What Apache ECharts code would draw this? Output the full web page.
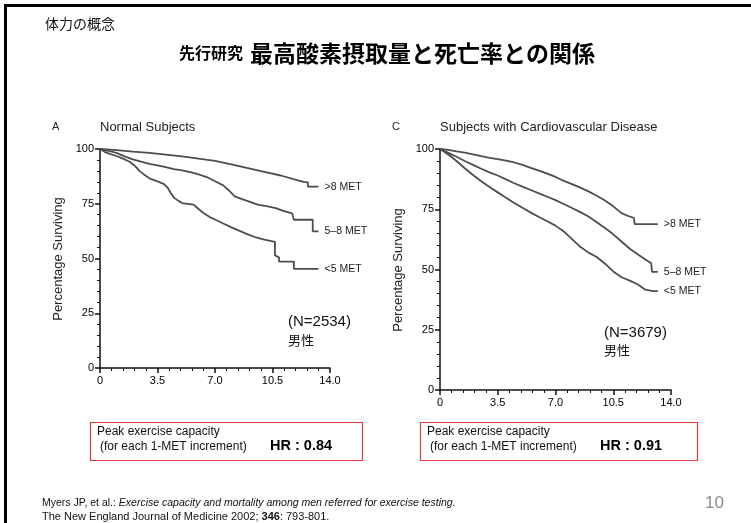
<!DOCTYPE html>
<html><head><meta charset="utf-8">
<script src="https://cdn.jsdelivr.net/npm/echarts@6/dist/echarts.min.js"></script>
<style>html,body{margin:0;padding:0;background:#fff}#c{width:751px;height:523px}</style>
</head><body><div id="c"></div>
<script>
// ---- data ----
const xTicks = [0, 3.5, 7.0, 10.5, 14.0];
const yTicks = [0, 25, 50, 75, 100];
const seriesNames = ['>8 MET', '5\u20138 MET', '<5 MET'];

// Panel A: Normal Subjects (survival %, by years)
const aHighX = [0,1,2,3,4,5,6,7,8,9,10,11,12,12.4,12.65,12.65,13.3];
const aHighY = [100,99.5,98.8,98.2,97.4,96.6,95.6,94.6,93.0,91.3,89.6,87.9,85.8,85.0,84.8,82.8,82.8];
const aMidX = [0,0.5,1,1.5,2,2.5,3,3.5,4,4.5,5,5.5,6,6.5,7,7.5,7.8,8.2,8.6,9,9.6,10.2,10.7,11.2,11.7,11.8,12.95,12.95,13.3];
const aMidY = [100,99.2,98.2,96.6,95.3,94.2,93.2,92.5,91.7,90.8,90.2,89.4,88.4,87.2,85.3,83.4,81.4,78.4,77.2,76.2,74.6,73.8,73.0,71.6,70.6,67.7,67.7,62.4,62.4];
const aLowX = [0,0.3,0.6,1.0,1.4,1.8,2.1,2.4,2.7,3.0,3.5,3.9,4.1,4.3,4.5,4.8,5.0,5.7,6.0,6.3,6.7,7.0,7.5,8.0,8.5,9.0,9.5,10.0,10.65,10.65,10.9,10.9,11.8,11.8,13.3];
const aLowY = [100,98.6,97.8,96.8,95.6,94.2,92.5,90.0,88.2,86.6,85.2,84.0,82.5,80.0,77.8,76.2,75.3,74.6,72.6,70.8,68.8,67.8,66.0,64.2,62.6,61.0,59.6,58.6,57.6,51.5,50.4,48.6,48.6,45.3,45.3];

// Panel C: Subjects with Cardiovascular Disease
const cHighX = [0,0.5,1,1.5,2,2.5,3,3.5,4,4.5,5,5.5,6,6.5,7,7.5,8,8.5,9,9.5,10,10.5,11,11.4,11.75,11.8,13.2];
const cHighY = [100,99.6,99.0,98.5,97.8,97.0,96.3,95.8,95.2,94.4,93.4,92.2,91.0,89.8,88.4,86.8,85.4,84.0,82.4,80.6,78.6,76.2,73.4,72.2,71.4,68.8,68.8];
const cMidX = [0,0.5,1,1.5,2,2.5,3,3.5,4,4.5,5,5.5,6,6.5,7,7.5,8,8.5,9,9.5,10,10.5,11,11.5,12,12.4,12.8,12.85,13.2];
const cMidY = [100,98.4,96.8,95.0,93.4,91.8,90.3,89.0,87.4,85.8,84.4,83.0,81.6,80.2,78.8,77.2,75.5,73.8,72.0,69.6,67.2,64.6,61.6,58.6,56.2,54.4,52.6,49.0,49.0];
const cLowX = [0,0.3,0.6,1,1.5,2,2.5,3,3.5,4,4.5,5,5.5,6,6.5,7,7.5,8,8.5,9,9.5,10,10.5,11,11.5,12,12.4,12.9,13.2];
const cLowY = [100,98.6,97.2,95.0,92.0,89.2,86.6,84.2,82.0,79.8,77.6,75.6,73.6,71.8,70.0,68.2,65.8,62.6,59.4,57.0,55.2,52.4,49.2,46.8,45.4,43.8,41.8,41.0,41.0];

// ---- chart ----
const zip = (xs, ys) => xs.map((x, i) => [x, ys[i]]);
const F = 'Liberation Sans, Arial, Helvetica, sans-serif';
const JP = 'Noto Sans CJK JP, sans-serif';

function xAx(g) {
  return {
    gridIndex: g, type: 'value', min: xTicks[0], max: xTicks[xTicks.length - 1], interval: 3.5,
    axisLine: { lineStyle: { color: '#111', width: 1.5 } },
    axisTick: { length: 5, lineStyle: { color: '#111', width: 1.5 } },
    minorTick: { show: true, splitNumber: 5, length: 3, lineStyle: { color: '#111', width: 1 } },
    splitLine: { show: false },
    axisLabel: { color: '#000', fontSize: 11, fontFamily: F, margin: 7,
      formatter: v => (v === 0 ? '0' : v.toFixed(1)) }
  };
}
function yAx(g) {
  return {
    gridIndex: g, type: 'value', min: yTicks[0], max: yTicks[yTicks.length - 1], interval: 25,
    axisLine: { show: true, lineStyle: { color: '#111', width: 1.5 } },
    axisTick: { show: true, length: 5, lineStyle: { color: '#111', width: 1.5 } },
    minorTick: { show: true, splitNumber: 5, length: 3, lineStyle: { color: '#111', width: 1 } },
    splitLine: { show: false },
    axisLabel: { color: '#000', fontSize: 11, fontFamily: F, margin: 6 }
  };
}
function ser(name, g, data) {
  return {
    type: 'line', name: name, xAxisIndex: g, yAxisIndex: g, data: data,
    symbol: 'none', silent: true, animation: false,
    lineStyle: { color: '#4d4d4d', width: 1.8 },
    endLabel: { show: true, formatter: '{a}', distance: 6, fontSize: 10.5, color: '#222', fontFamily: F }
  };
}
function txt(x, y, text, fs, opts) {
  return Object.assign({ type: 'text', x: x, y: y, silent: true,
    style: Object.assign({ text: text, fontSize: fs, fontFamily: F, fill: '#222', align: 'left', verticalAlign: 'middle' }, (opts && opts.style) || {}) },
    opts && opts.el ? opts.el : {});
}

const chart = echarts.init(document.getElementById('c'), null, { renderer: 'canvas' });
chart.setOption({
  backgroundColor: '#fff',
  animation: false,
  grid: [
    { left: 100, right: 421, top: 149, bottom: 155, outerBoundsMode: 'none' },
    { left: 440, right: 80, top: 149, bottom: 133, outerBoundsMode: 'none' }
  ],
  xAxis: [xAx(0), xAx(1)],
  yAxis: [yAx(0), yAx(1)],
  series: [
    ser(seriesNames[0], 0, zip(aHighX, aHighY)),
    ser(seriesNames[1], 0, zip(aMidX, aMidY)),
    ser(seriesNames[2], 0, zip(aLowX, aLowY)),
    ser(seriesNames[0], 1, zip(cHighX, cHighY)),
    ser(seriesNames[1], 1, zip(cMidX, cMidY)),
    ser(seriesNames[2], 1, zip(cLowX, cLowY))
  ],
  graphic: [
    { type: 'polyline', silent: true, shape: { points: [[5.5, 523], [5.5, 5.5], [751, 5.5]] }, style: { stroke: '#000', lineWidth: 3, fill: null } },
    txt(45, 24, '体力の概念', 14, { style: { fontFamily: JP, fill: '#111' } }),
    txt(243, 53, '先行研究', 16, { style: { fontFamily: JP, fontWeight: 'bold', fill: '#000', align: 'right' } }),
    txt(250, 53, '最高酸素摂取量と死亡率との関係', 23, { style: { fontFamily: JP, fontWeight: 'bold', fill: '#000' } }),
    // panel titles
    txt(52, 127, 'A', 11, {}),
    txt(100, 127, 'Normal Subjects', 13, {}),
    txt(392, 127, 'C', 11, {}),
    txt(440, 127, 'Subjects with Cardiovascular Disease', 13, {}),
    // y axis names
    { type: 'text', x: 58.5, y: 259, rotation: Math.PI / 2, silent: true,
      style: { text: 'Percentage Surviving', fontSize: 13, fontFamily: F, fill: '#222', align: 'center', verticalAlign: 'middle' } },
    { type: 'text', x: 398.5, y: 270, rotation: Math.PI / 2, silent: true,
      style: { text: 'Percentage Surviving', fontSize: 13, fontFamily: F, fill: '#222', align: 'center', verticalAlign: 'middle' } },
    // N labels
    txt(288, 322, '(N=2534)', 15, { style: { fill: '#111' } }),
    txt(288, 340, '男性', 13, { style: { fontFamily: JP, fill: '#111' } }),
    txt(604, 333, '(N=3679)', 15, { style: { fill: '#111' } }),
    txt(604, 350, '男性', 13, { style: { fontFamily: JP, fill: '#111' } }),
    // boxes
    { type: 'rect', silent: true, shape: { x: 90.5, y: 422.5, width: 272, height: 38 }, style: { fill: 'none', stroke: '#e03a3a', lineWidth: 1.2 } },
    { type: 'rect', silent: true, shape: { x: 420.5, y: 422.5, width: 277, height: 38 }, style: { fill: 'none', stroke: '#e03a3a', lineWidth: 1.2 } },
    txt(97, 432, 'Peak exercise capacity', 12, { style: { fill: '#111' } }),
    txt(100, 447, '(for each 1-MET increment)', 12, { style: { fill: '#111' } }),
    txt(270, 446, 'HR : 0.84', 14.5, { style: { fill: '#000', fontWeight: 'bold' } }),
    txt(427, 432, 'Peak exercise capacity', 12, { style: { fill: '#111' } }),
    txt(430, 447, '(for each 1-MET increment)', 12, { style: { fill: '#111' } }),
    txt(600, 446, 'HR : 0.91', 14.5, { style: { fill: '#000', fontWeight: 'bold' } }),
    // citation
    { type: 'text', x: 42, y: 503, silent: true,
      style: { text: '{n|Myers JP, et al.: }{i|Exercise capacity and mortality among men referred for exercise testing.}',
        verticalAlign: 'middle', fontSize: 10.5, fontFamily: F, fill: '#111',
        rich: { n: { fontSize: 10.5, fontFamily: F, fill: '#111' }, i: { fontSize: 10.5, fontFamily: F, fontStyle: 'italic', fill: '#111' } } } },
    { type: 'text', x: 42, y: 517, silent: true,
      style: { text: '{n|The New England Journal of Medicine 2002; }{b|346}{n|: 793-801.}',
        verticalAlign: 'middle', fontSize: 11, fontFamily: F, fill: '#111',
        rich: { n: { fontSize: 11, fontFamily: F, fill: '#111' }, b: { fontSize: 11, fontFamily: F, fontWeight: 'bold', fill: '#111' } } } },
    txt(705, 503, '10', 17, { style: { fill: '#8a8a8a' } })
  ]
});
</script>
</body></html>
